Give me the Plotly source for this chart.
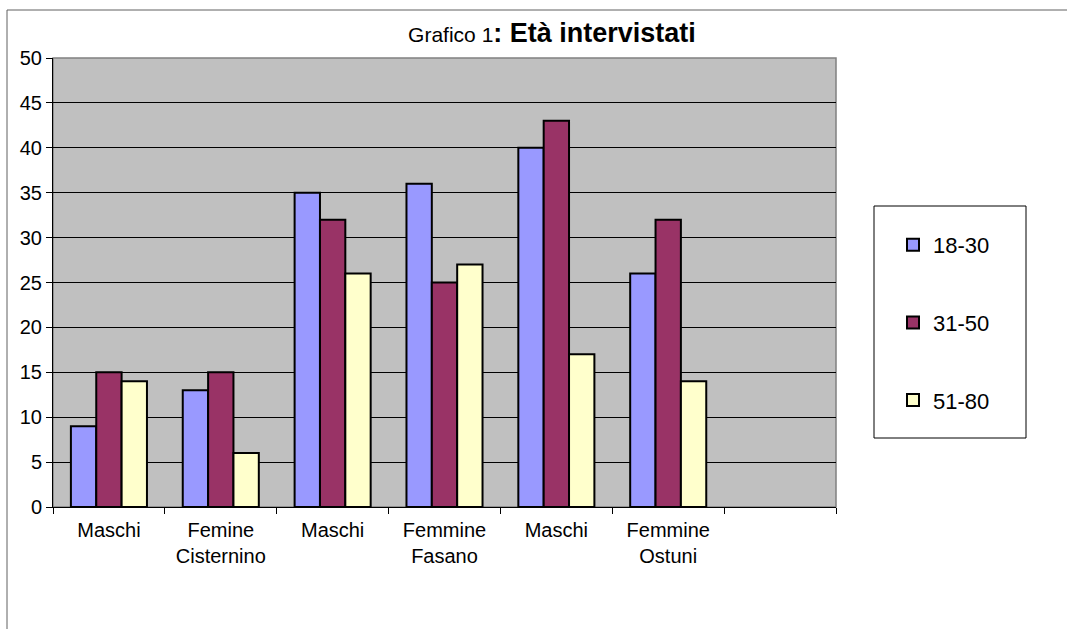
import plotly.graph_objects as go

categories = ["Maschi", "Femine<br>Cisternino", "Maschi", "Femmine<br>Fasano",
              "Maschi", "Femmine<br>Ostuni", ""]
series_names = ["18-30", "31-50", "51-80"]
eta_18_30 = [9, 13, 35, 36, 40, 26]
eta_31_50 = [15, 15, 32, 25, 43, 32]
eta_51_80 = [14, 6, 26, 27, 17, 14]
colors = ["#9999FF", "#993366", "#FFFFCC"]

FONT = "Liberation Sans, Arial, sans-serif"

# numeric positions so the repeated "Maschi" labels stay separate
xpos = list(range(len(categories)))

fig = go.Figure()
for name, vals, col in zip(series_names, [eta_18_30, eta_31_50, eta_51_80], colors):
    fig.add_trace(go.Bar(
        x=xpos[:len(vals)],
        y=vals,
        name=name,
        legendgroup=name,
        marker=dict(color=col, line=dict(color="black", width=2)),
    ))

W, H = 1067, 629
L, R, T, B = 53, 836, 58, 507


def px_x(p):
    return (p - L) / (R - L)


def px_y(p):
    return (B - p) / (B - T)


fig.update_layout(
    width=W, height=H,
    margin=dict(l=L, r=W - R, t=T, b=H - B),
    paper_bgcolor="white",
    plot_bgcolor="#C0C0C0",
    font=dict(family=FONT, size=20, color="black"),
    barmode="group",
    bargap=0.32,
    bargroupgap=0,
    title=dict(
        text="Grafico 1<span style='font-size:27px'><b>: Età intervistati</b></span>",
        x=552 / W, xanchor="center",
        y=1 - 35 / H, yanchor="middle",
        font=dict(size=21, family=FONT, color="black"),
    ),
    showlegend=True,
    legend=dict(
        x=px_x(893), xanchor="left",
        y=px_y(224), yanchor="top",
        bgcolor="rgba(0,0,0,0)",
        borderwidth=0,
        tracegroupgap=46,
        font=dict(size=22, family=FONT),
        traceorder="grouped",
    ),
    xaxis=dict(
        range=[-0.5, len(categories) - 0.5],
        tickmode="array",
        tickvals=xpos,
        ticktext=categories,
        ticks="",
        ticklabelstandoff=5,
        showgrid=False,
        zeroline=False,
        showline=True, linecolor="black", linewidth=1,
        tickfont=dict(size=20),
        minor=dict(
            tickmode="array",
            tickvals=[i - 0.5 for i in range(len(categories) + 1)],
            ticks="outside", ticklen=6, tickcolor="black", showgrid=False,
        ),
    ),
    yaxis=dict(
        range=[0, 50],
        dtick=5,
        ticks="outside", ticklen=6, tickcolor="black",
        showgrid=True, gridcolor="black", gridwidth=1,
        zeroline=False,
        showline=True, linecolor="black", linewidth=1,
        tickfont=dict(size=20),
    ),
    shapes=[
        # outer chart frame
        dict(type="rect", xref="paper", yref="paper",
             x0=px_x(7), x1=px_x(1075), y0=px_y(645), y1=px_y(10),
             line=dict(color="#606060", width=1), fillcolor="rgba(0,0,0,0)",
             layer="below"),
        # plot area border (top/right gray)
        dict(type="rect", xref="paper", yref="paper",
             x0=0, x1=1, y0=0, y1=1,
             line=dict(color="#808080", width=1.5), fillcolor="rgba(0,0,0,0)",
             layer="below"),
        # legend box
        dict(type="rect", xref="paper", yref="paper",
             x0=px_x(874), x1=px_x(1026), y0=px_y(438), y1=px_y(206),
             line=dict(color="black", width=1), fillcolor="white",
             layer="below"),
    ],
)

fig.write_html("out.html", config={"displayModeBar": False},
               post_script="document.body.style.margin='0';")
